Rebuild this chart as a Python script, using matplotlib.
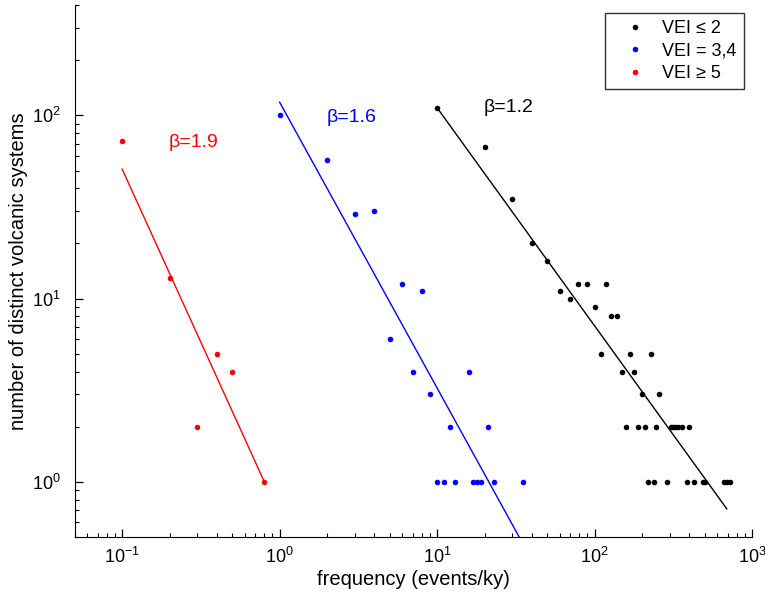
import numpy as np
import matplotlib
matplotlib.use('Agg')
import matplotlib.pyplot as plt
from matplotlib.ticker import LogLocator, NullFormatter

plt.rcParams['font.family'] = ['Liberation Sans', 'DejaVu Sans']
plt.rcParams['mathtext.default'] = 'regular'

# VEI <= 2 (black)
low_x = [10, 20, 30, 40, 50, 60, 70, 79, 89, 100, 110, 118, 128, 139, 149, 158, 168,
         178, 188, 200, 208, 218, 228, 239, 247, 258, 287, 305, 314, 323, 338, 358,
         387, 396, 427, 486, 501, 664, 691, 725]
low_y = [110, 67, 35, 20, 16, 11, 10, 12, 12, 9, 5, 12, 8, 8, 4, 2, 5,
         4, 2, 3, 2, 1, 5, 1, 2, 3, 1, 2, 2, 2, 2, 2,
         1, 2, 1, 1, 1, 1, 1, 1]

# VEI = 3,4 (blue)
mid_x = [1, 2, 3, 4, 5, 6, 7, 8, 9, 12, 16, 21, 10, 11, 13, 17, 18, 19, 23, 35]
mid_y = [100, 57, 29, 30, 6, 12, 4, 11, 3, 2, 4, 2, 1, 1, 1, 1, 1, 1, 1, 1]

# VEI >= 5 (red)
high_x = [0.1, 0.2, 0.3, 0.4, 0.5, 0.8]
high_y = [72, 13, 2, 5, 4, 1]

# power-law fits: (x start, x end, value at x start, slope)
fit_low = (10, 691, 110, 1.19)
fit_mid = (1, 40, 118, 1.56)
fit_high = (0.1, 0.8, 50.9, 1.89)

labels = ['VEI ≤ 2', 'VEI = 3,4', 'VEI ≥ 5']
beta_text = ['β=1.2', 'β=1.6', 'β=1.9']


def fit_line(p):
    x0, x1, y0, b = p
    x = np.array([x0, x1], dtype=float)
    return x, y0 * (x / x0) ** (-b)


fig = plt.figure(figsize=(7.65, 5.92), dpi=100)
ax = fig.add_axes([0.0977, 0.0929, 0.8854, 0.8986])

ax.plot(low_x, low_y, 'o', color='k', ms=4, mew=0, label=labels[0])
ax.plot(mid_x, mid_y, 'o', color='b', ms=4, mew=0, label=labels[1])
ax.plot(high_x, high_y, 'o', color='r', ms=4, mew=0, label=labels[2])

for p, c in [(fit_low, 'k'), (fit_mid, 'b'), (fit_high, 'r')]:
    xx, yy = fit_line(p)
    ax.plot(xx, yy, '-', color=c, lw=1)

ax.text(19.7, 110, beta_text[0], color='k', fontsize=14, ha='left', va='center')
ax.text(1.99, 97, beta_text[1], color='b', fontsize=14, ha='left', va='center')
ax.text(0.196, 71, beta_text[2], color='r', fontsize=14, ha='left', va='center')

ax.set_xscale('log')
ax.set_yscale('log')
ax.set_xlim(0.05, 1000)
ax.set_ylim(0.5, 400)

ax.xaxis.set_major_locator(LogLocator(base=10, numticks=10))
ax.xaxis.set_minor_locator(LogLocator(base=10, subs=np.arange(2, 10), numticks=20))
ax.yaxis.set_minor_locator(LogLocator(base=10, subs=np.arange(2, 10), numticks=20))
ax.xaxis.set_minor_formatter(NullFormatter())
ax.yaxis.set_minor_formatter(NullFormatter())

ax.spines['top'].set_visible(False)
ax.spines['right'].set_visible(False)
ax.tick_params(which='both', direction='in', labelsize=13)
ax.tick_params(which='major', length=6, width=0.9)
ax.tick_params(axis='y', which='major', pad=10)
ax.tick_params(axis='x', which='major', pad=7)
ax.tick_params(which='minor', length=3, width=0.8)

ax.set_xlabel('frequency (events/ky)', fontsize=14.5, labelpad=2)
ax.set_ylabel('number of distinct volcanic systems', fontsize=14.5, labelpad=3)

leg = ax.legend(loc='upper right', bbox_to_anchor=(0.988, 0.985), borderaxespad=0,
                fontsize=13, frameon=True, fancybox=False, handlelength=2.6,
                handletextpad=0.2, borderpad=0.4, labelspacing=0.3)
leg.get_frame().set_edgecolor('k')
leg.get_frame().set_linewidth(1)

fig.savefig('out.png', dpi=100)
